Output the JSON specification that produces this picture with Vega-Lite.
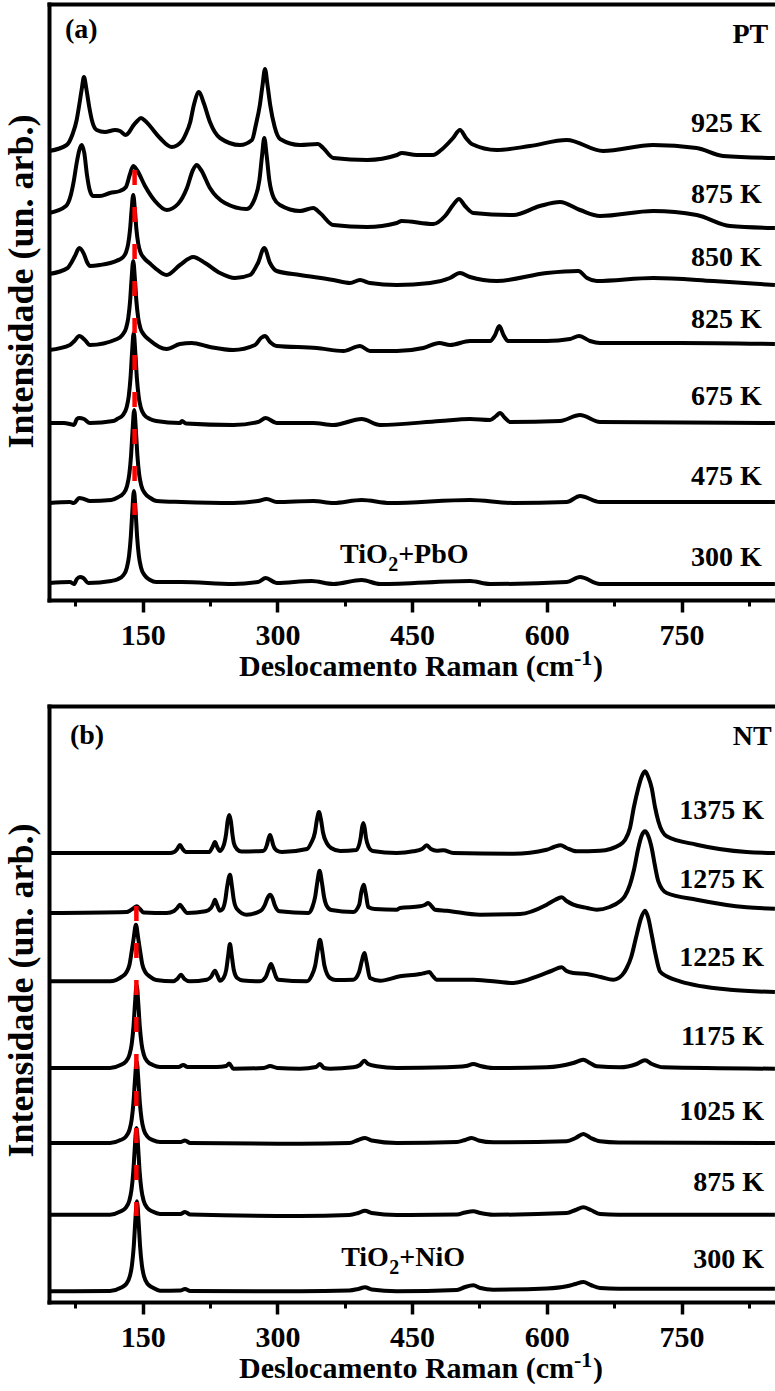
{
"$schema":"https://vega.github.io/schema/vega-lite/v6.json",
"background":"white",
"padding":{"left":2,"top":4,"right":0,"bottom":0},
"bounds":"flush",
"spacing":106,
"config":{"view":{"stroke":null}},
"datasets":{
"pa":[
{"s":"925","x":46,"y":449},{"s":"925","x":65.4,"y":455},{"s":"925","x":72,"y":466},{"s":"925","x":76.5,"y":480},{"s":"925","x":79,"y":493},{"s":"925","x":82,"y":510},{"s":"925","x":84.6,"y":523},{"s":"925","x":87.5,"y":510},{"s":"925","x":90.5,"y":493},{"s":"925","x":94,"y":478},{"s":"925","x":98.8,"y":470},{"s":"925","x":108,"y":468},{"s":"925","x":119.3,"y":470},{"s":"925","x":124.7,"y":469},{"s":"925","x":131.4,"y":465},{"s":"925","x":135,"y":468},{"s":"925","x":139.2,"y":474},{"s":"925","x":144,"y":479},{"s":"925","x":148.1,"y":482},{"s":"925","x":153,"y":479},{"s":"925","x":158.1,"y":474},{"s":"925","x":169.3,"y":462},{"s":"925","x":182.4,"y":453},{"s":"925","x":193.8,"y":459},{"s":"925","x":198,"y":466},{"s":"925","x":203,"y":478},{"s":"925","x":207,"y":495},{"s":"925","x":212.7,"y":508},{"s":"925","x":218,"y":497},{"s":"925","x":224.9,"y":478},{"s":"925","x":236.1,"y":462},{"s":"925","x":258.4,"y":455},{"s":"925","x":271.7,"y":460},{"s":"925","x":276,"y":475},{"s":"925","x":280.5,"y":495},{"s":"925","x":283.5,"y":515},{"s":"925","x":286.2,"y":531},{"s":"925","x":289,"y":515},{"s":"925","x":292,"y":495},{"s":"925","x":297,"y":473},{"s":"925","x":303,"y":461},{"s":"925","x":325.2,"y":455},{"s":"925","x":345.2,"y":456},{"s":"925","x":351,"y":452},{"s":"925","x":362.3,"y":442},{"s":"925","x":400.1,"y":440},{"s":"925","x":433.2,"y":445},{"s":"925","x":438.4,"y":447},{"s":"925","x":455,"y":445},{"s":"925","x":473.3,"y":445},{"s":"925","x":482.3,"y":450},{"s":"925","x":495.6,"y":462},{"s":"925","x":503.3,"y":470},{"s":"925","x":510,"y":462},{"s":"925","x":516.4,"y":456},{"s":"925","x":544.2,"y":450},{"s":"925","x":581.3,"y":454},{"s":"925","x":622.2,"y":460},{"s":"925","x":662.6,"y":449},{"s":"925","x":718.3,"y":455},{"s":"925","x":766.9,"y":452},{"s":"925","x":796.2,"y":444},{"s":"925","x":854,"y":442},
{"s":"875","x":46,"y":387},{"s":"875","x":64.6,"y":394},{"s":"875","x":70,"y":405},{"s":"875","x":73.5,"y":420},{"s":"875","x":76.5,"y":437},{"s":"875","x":79.5,"y":450},{"s":"875","x":82.1,"y":455},{"s":"875","x":85,"y":447},{"s":"875","x":88,"y":425},{"s":"875","x":91,"y":410},{"s":"875","x":94.7,"y":404},{"s":"875","x":102.4,"y":404},{"s":"875","x":113.6,"y":407},{"s":"875","x":124.7,"y":409},{"s":"875","x":131.4,"y":413},{"s":"875","x":135.9,"y":426},{"s":"875","x":139.5,"y":434},{"s":"875","x":143.6,"y":430},{"s":"875","x":152.6,"y":414},{"s":"875","x":163.7,"y":399},{"s":"875","x":176.7,"y":390},{"s":"875","x":189.3,"y":396},{"s":"875","x":199.3,"y":412},{"s":"875","x":206,"y":430},{"s":"875","x":210.1,"y":435},{"s":"875","x":215,"y":430},{"s":"875","x":224.9,"y":412},{"s":"875","x":241.6,"y":397},{"s":"875","x":265.8,"y":391},{"s":"875","x":275.1,"y":402},{"s":"875","x":280,"y":420},{"s":"875","x":283,"y":445},{"s":"875","x":285.4,"y":462},{"s":"875","x":288,"y":445},{"s":"875","x":291,"y":420},{"s":"875","x":296,"y":402},{"s":"875","x":302.9,"y":395},{"s":"875","x":325.2,"y":389},{"s":"875","x":340,"y":392},{"s":"875","x":347.5,"y":387},{"s":"875","x":362.3,"y":375},{"s":"875","x":399.9,"y":373},{"s":"875","x":432.9,"y":377},{"s":"875","x":438.4,"y":379},{"s":"875","x":473.6,"y":376},{"s":"875","x":486.7,"y":384},{"s":"875","x":495.6,"y":395},{"s":"875","x":502.2,"y":401},{"s":"875","x":508.9,"y":394},{"s":"875","x":518.2,"y":387},{"s":"875","x":562.7,"y":385},{"s":"875","x":592.4,"y":394},{"s":"875","x":614.7,"y":398},{"s":"875","x":637,"y":390},{"s":"875","x":659.2,"y":384},{"s":"875","x":718.6,"y":389},{"s":"875","x":766.9,"y":385},{"s":"875","x":804,"y":374},{"s":"875","x":854,"y":372},
{"s":"850","x":46,"y":326},{"s":"850","x":66.5,"y":332},{"s":"850","x":71,"y":338},{"s":"850","x":74.6,"y":344},{"s":"850","x":79.4,"y":352},{"s":"850","x":84.6,"y":346},{"s":"850","x":88,"y":338},{"s":"850","x":91.3,"y":334},{"s":"850","x":102.4,"y":335},{"s":"850","x":121.5,"y":339.4},{"s":"850","x":127.5,"y":342.3},{"s":"850","x":131.5,"y":347.9},{"s":"850","x":134,"y":356.7},{"s":"850","x":136,"y":371},{"s":"850","x":137.5,"y":388},{"s":"850","x":139.5,"y":405},{"s":"850","x":141.5,"y":388},{"s":"850","x":143,"y":371},{"s":"850","x":145,"y":356.7},{"s":"850","x":147.5,"y":347.9},{"s":"850","x":151.5,"y":342},{"s":"850","x":157.5,"y":337},{"s":"850","x":163.7,"y":332},{"s":"850","x":176.7,"y":325},{"s":"850","x":191.5,"y":335},{"s":"850","x":206.3,"y":343},{"s":"850","x":219.5,"y":337},{"s":"850","x":236.1,"y":327},{"s":"850","x":252.8,"y":322},{"s":"850","x":269.5,"y":325},{"s":"850","x":278.4,"y":337},{"s":"850","x":285.4,"y":352},{"s":"850","x":291.8,"y":337},{"s":"850","x":299.2,"y":329},{"s":"850","x":325.2,"y":325},{"s":"850","x":362.3,"y":320},{"s":"850","x":380.9,"y":317},{"s":"850","x":392,"y":320},{"s":"850","x":403.1,"y":317},{"s":"850","x":432.9,"y":315},{"s":"850","x":469.9,"y":317},{"s":"850","x":492.2,"y":322},{"s":"850","x":503.3,"y":327},{"s":"850","x":514.5,"y":323},{"s":"850","x":544.2,"y":319},{"s":"850","x":599.9,"y":327},{"s":"850","x":635.1,"y":329},{"s":"850","x":644.8,"y":322},{"s":"850","x":655.6,"y":319},{"s":"850","x":718.6,"y":322},{"s":"850","x":785.4,"y":319},{"s":"850","x":854,"y":315},
{"s":"825","x":46,"y":250},{"s":"825","x":69,"y":255},{"s":"825","x":74,"y":259},{"s":"825","x":79.4,"y":264},{"s":"825","x":85.7,"y":260},{"s":"825","x":91.3,"y":255},{"s":"825","x":121.5,"y":261},{"s":"825","x":127.5,"y":265.2},{"s":"825","x":131.5,"y":271.8},{"s":"825","x":134,"y":282.2},{"s":"825","x":136,"y":299},{"s":"825","x":137.5,"y":319},{"s":"825","x":139.5,"y":339},{"s":"825","x":141.5,"y":319},{"s":"825","x":143,"y":299},{"s":"825","x":145,"y":282.2},{"s":"825","x":147.5,"y":271.8},{"s":"825","x":151.5,"y":265.2},{"s":"825","x":157.5,"y":260},{"s":"825","x":176.7,"y":251},{"s":"825","x":191.5,"y":256},{"s":"825","x":204.6,"y":257},{"s":"825","x":224.9,"y":253},{"s":"825","x":250.9,"y":250},{"s":"825","x":275.1,"y":255},{"s":"825","x":281.7,"y":262},{"s":"825","x":286.2,"y":264},{"s":"825","x":291.8,"y":258},{"s":"825","x":299.2,"y":254},{"s":"825","x":343.8,"y":252},{"s":"825","x":373.4,"y":249},{"s":"825","x":392,"y":254},{"s":"825","x":403.1,"y":249},{"s":"825","x":432.9,"y":249},{"s":"825","x":462.5,"y":252},{"s":"825","x":480.3,"y":257},{"s":"825","x":492.2,"y":255},{"s":"825","x":514.5,"y":259},{"s":"825","x":536.8,"y":259},{"s":"825","x":542.4,"y":265},{"s":"825","x":547.1,"y":274},{"s":"825","x":551.8,"y":265},{"s":"825","x":557.1,"y":259},{"s":"825","x":599.9,"y":259},{"s":"825","x":625.9,"y":261},{"s":"825","x":635.9,"y":264},{"s":"825","x":648.1,"y":259},{"s":"825","x":659.2,"y":257},{"s":"825","x":748.3,"y":257},{"s":"825","x":854,"y":256},
{"s":"675","x":46,"y":177},{"s":"675","x":62.4,"y":177},{"s":"675","x":69,"y":176},{"s":"675","x":73.5,"y":175},{"s":"675","x":76.8,"y":181},{"s":"675","x":79.4,"y":182},{"s":"675","x":84.6,"y":181},{"s":"675","x":91.3,"y":177},{"s":"675","x":117.3,"y":179},{"s":"675","x":122,"y":181.2},{"s":"675","x":128,"y":184.9},{"s":"675","x":132,"y":192.2},{"s":"675","x":134.5,"y":203.8},{"s":"675","x":136.5,"y":222.5},{"s":"675","x":138,"y":244.8},{"s":"675","x":140,"y":267},{"s":"675","x":142,"y":244.8},{"s":"675","x":143.5,"y":222.5},{"s":"675","x":145.5,"y":203.8},{"s":"675","x":148,"y":192.2},{"s":"675","x":152,"y":184.9},{"s":"675","x":158,"y":181},{"s":"675","x":165,"y":179},{"s":"675","x":191.5,"y":177},{"s":"675","x":193.8,"y":179},{"s":"675","x":198.2,"y":176.5},{"s":"675","x":250.9,"y":175},{"s":"675","x":278.4,"y":178},{"s":"675","x":287,"y":182},{"s":"675","x":299.2,"y":177},{"s":"675","x":339.7,"y":177},{"s":"675","x":362.3,"y":175},{"s":"675","x":393.9,"y":181},{"s":"675","x":414.3,"y":175},{"s":"675","x":481.1,"y":179},{"s":"675","x":514.5,"y":181},{"s":"675","x":536.8,"y":180},{"s":"675","x":543.5,"y":184},{"s":"675","x":547.9,"y":187},{"s":"675","x":553.5,"y":182},{"s":"675","x":559,"y":178},{"s":"675","x":614.7,"y":179},{"s":"675","x":637,"y":185},{"s":"675","x":659.2,"y":178},{"s":"675","x":854,"y":177},
{"s":"475","x":46,"y":97},{"s":"475","x":69,"y":98},{"s":"475","x":73.5,"y":97},{"s":"475","x":79.4,"y":102},{"s":"475","x":84.6,"y":101},{"s":"475","x":91.3,"y":99},{"s":"475","x":115,"y":100},{"s":"475","x":122.6,"y":102.8},{"s":"475","x":128.6,"y":106.6},{"s":"475","x":132.6,"y":114},{"s":"475","x":135.1,"y":125.7},{"s":"475","x":137.1,"y":144.8},{"s":"475","x":138.6,"y":167.4},{"s":"475","x":140.6,"y":190},{"s":"475","x":142.6,"y":167.4},{"s":"475","x":144.1,"y":144.8},{"s":"475","x":146.1,"y":125.7},{"s":"475","x":148.6,"y":114},{"s":"475","x":152.6,"y":106.6},{"s":"475","x":158.6,"y":102},{"s":"475","x":165.6,"y":99},{"s":"475","x":193.4,"y":98},{"s":"475","x":250.9,"y":97},{"s":"475","x":278.4,"y":99},{"s":"475","x":288.1,"y":101},{"s":"475","x":299.2,"y":98},{"s":"475","x":340,"y":99},{"s":"475","x":362.3,"y":97},{"s":"475","x":393.9,"y":100},{"s":"475","x":425.4,"y":97},{"s":"475","x":514.5,"y":100},{"s":"475","x":562.7,"y":97},{"s":"475","x":622.2,"y":98},{"s":"475","x":637,"y":104},{"s":"475","x":659.2,"y":98},{"s":"475","x":854,"y":98},
{"s":"300","x":46,"y":17},{"s":"300","x":69,"y":18},{"s":"300","x":73.5,"y":16},{"s":"300","x":76.8,"y":21},{"s":"300","x":80.2,"y":23},{"s":"300","x":83.9,"y":22},{"s":"300","x":89.4,"y":17},{"s":"300","x":115,"y":19},{"s":"300","x":122.3,"y":20.8},{"s":"300","x":128.3,"y":24.6},{"s":"300","x":132.3,"y":32.1},{"s":"300","x":134.8,"y":44},{"s":"300","x":136.8,"y":63.3},{"s":"300","x":138.3,"y":86.1},{"s":"300","x":140.3,"y":109},{"s":"300","x":142.3,"y":86.1},{"s":"300","x":143.8,"y":63.3},{"s":"300","x":145.8,"y":44},{"s":"300","x":148.3,"y":32.1},{"s":"300","x":152.3,"y":24.6},{"s":"300","x":158.3,"y":20},{"s":"300","x":165,"y":18},{"s":"300","x":193.4,"y":18},{"s":"300","x":250.9,"y":16},{"s":"300","x":278.4,"y":18},{"s":"300","x":287,"y":22},{"s":"300","x":299.2,"y":17},{"s":"300","x":338.2,"y":19},{"s":"300","x":362.3,"y":16},{"s":"300","x":393.9,"y":20},{"s":"300","x":414.3,"y":16},{"s":"300","x":514.5,"y":19},{"s":"300","x":536.8,"y":16},{"s":"300","x":622.2,"y":18},{"s":"300","x":637,"y":23},{"s":"300","x":659.2,"y":16},{"s":"300","x":854,"y":16}
],
"pb":[
{"s":"1375","x":46,"y":449},{"s":"1375","x":180.4,"y":449},{"s":"1375","x":185,"y":450},{"s":"1375","x":188.5,"y":453},{"s":"1375","x":191.5,"y":457},{"s":"1375","x":194.5,"y":453},{"s":"1375","x":198,"y":450},{"s":"1375","x":224,"y":450},{"s":"1375","x":227.5,"y":454.5},{"s":"1375","x":230.5,"y":460},{"s":"1375","x":233,"y":455},{"s":"1375","x":236,"y":451},{"s":"1375","x":239,"y":454},{"s":"1375","x":241,"y":459},{"s":"1375","x":242.9,"y":468},{"s":"1375","x":244.6,"y":481},{"s":"1375","x":246.4,"y":487},{"s":"1375","x":248.2,"y":481},{"s":"1375","x":249.9,"y":468},{"s":"1375","x":251.5,"y":459},{"s":"1375","x":254.7,"y":453},{"s":"1375","x":260,"y":450.5},{"s":"1375","x":284,"y":451},{"s":"1375","x":288.3,"y":457},{"s":"1375","x":290,"y":463},{"s":"1375","x":291.8,"y":467},{"s":"1375","x":293.6,"y":463},{"s":"1375","x":295.3,"y":457},{"s":"1375","x":299.2,"y":451.5},{"s":"1375","x":305,"y":450},{"s":"1375","x":333,"y":453},{"s":"1375","x":337.3,"y":458.5},{"s":"1375","x":341.8,"y":469.5},{"s":"1375","x":344,"y":482},{"s":"1375","x":346.3,"y":490},{"s":"1375","x":348.6,"y":482},{"s":"1375","x":350.8,"y":469.5},{"s":"1375","x":355.3,"y":458.5},{"s":"1375","x":359.8,"y":454},{"s":"1375","x":370,"y":451},{"s":"1375","x":388,"y":452},{"s":"1375","x":392.7,"y":464},{"s":"1375","x":394.2,"y":474},{"s":"1375","x":395.7,"y":479},{"s":"1375","x":397.2,"y":474},{"s":"1375","x":398.7,"y":464},{"s":"1375","x":401.7,"y":455},{"s":"1375","x":406,"y":451},{"s":"1375","x":432.9,"y":449},{"s":"1375","x":451.3,"y":450.7},{"s":"1375","x":461,"y":453},{"s":"1375","x":466.3,"y":456.7},{"s":"1375","x":471,"y":453},{"s":"1375","x":477.4,"y":451.3},{"s":"1375","x":484.8,"y":451.7},{"s":"1375","x":495.9,"y":449},{"s":"1375","x":562.7,"y":448.3},{"s":"1375","x":599.9,"y":452.3},{"s":"1375","x":608,"y":455},{"s":"1375","x":615.5,"y":456.7},{"s":"1375","x":622,"y":454},{"s":"1375","x":633.3,"y":450.7},{"s":"1375","x":659.2,"y":451.3},{"s":"1375","x":681.5,"y":457.3},{"s":"1375","x":687,"y":462},{"s":"1375","x":692.6,"y":474},{"s":"1375","x":697,"y":495},{"s":"1375","x":701.9,"y":514},{"s":"1375","x":705.5,"y":525},{"s":"1375","x":709.4,"y":530.7},{"s":"1375","x":713,"y":525},{"s":"1375","x":716.8,"y":514},{"s":"1375","x":720.5,"y":495},{"s":"1375","x":724.2,"y":480.7},{"s":"1375","x":733.5,"y":465.7},{"s":"1375","x":766.9,"y":457.3},{"s":"1375","x":822.6,"y":450},{"s":"1375","x":854,"y":449},
{"s":"1275","x":46,"y":389},{"s":"1275","x":132.2,"y":390},{"s":"1275","x":136,"y":391.5},{"s":"1275","x":139.5,"y":393.5},{"s":"1275","x":143.3,"y":395.7},{"s":"1275","x":147,"y":393},{"s":"1275","x":151,"y":389.5},{"s":"1275","x":176.7,"y":389},{"s":"1275","x":185,"y":391},{"s":"1275","x":188.5,"y":394},{"s":"1275","x":191.5,"y":397.3},{"s":"1275","x":194.5,"y":394},{"s":"1275","x":199.7,"y":389},{"s":"1275","x":220,"y":390.7},{"s":"1275","x":226,"y":394},{"s":"1275","x":228.5,"y":398},{"s":"1275","x":230.5,"y":402.3},{"s":"1275","x":232.5,"y":398},{"s":"1275","x":236.1,"y":391.3},{"s":"1275","x":239,"y":393},{"s":"1275","x":242,"y":402},{"s":"1275","x":244,"y":415},{"s":"1275","x":247.2,"y":427.3},{"s":"1275","x":249.5,"y":415},{"s":"1275","x":251.5,"y":402},{"s":"1275","x":255,"y":393},{"s":"1275","x":265.8,"y":387.3},{"s":"1275","x":281,"y":391},{"s":"1275","x":286,"y":397},{"s":"1275","x":289,"y":404},{"s":"1275","x":291.8,"y":407.3},{"s":"1275","x":294.5,"y":404},{"s":"1275","x":297,"y":397},{"s":"1275","x":302.4,"y":390.7},{"s":"1275","x":334.5,"y":389},{"s":"1275","x":339,"y":395},{"s":"1275","x":342,"y":405},{"s":"1275","x":344.5,"y":420},{"s":"1275","x":347,"y":431.3},{"s":"1275","x":349.5,"y":420},{"s":"1275","x":352,"y":405},{"s":"1275","x":355,"y":396},{"s":"1275","x":360,"y":392},{"s":"1275","x":384.5,"y":390},{"s":"1275","x":391,"y":397},{"s":"1275","x":393.5,"y":410},{"s":"1275","x":396,"y":417.3},{"s":"1275","x":398.5,"y":408},{"s":"1275","x":401.2,"y":395},{"s":"1275","x":408,"y":393},{"s":"1275","x":432.9,"y":392.3},{"s":"1275","x":436.5,"y":394},{"s":"1275","x":458.8,"y":395.7},{"s":"1275","x":464,"y":397},{"s":"1275","x":468,"y":399},{"s":"1275","x":471.5,"y":396},{"s":"1275","x":475.5,"y":392.3},{"s":"1275","x":488.5,"y":391.3},{"s":"1275","x":525.6,"y":387.3},{"s":"1275","x":570.1,"y":388},{"s":"1275","x":599.9,"y":397.3},{"s":"1275","x":609,"y":402},{"s":"1275","x":616.6,"y":404.7},{"s":"1275","x":622,"y":401},{"s":"1275","x":629.5,"y":397.3},{"s":"1275","x":645,"y":394},{"s":"1275","x":655.6,"y":392.3},{"s":"1275","x":670,"y":395},{"s":"1275","x":681.5,"y":400.7},{"s":"1275","x":687,"y":406},{"s":"1275","x":692.6,"y":417.3},{"s":"1275","x":697,"y":432},{"s":"1275","x":701.9,"y":454},{"s":"1275","x":705.5,"y":466},{"s":"1275","x":709.4,"y":470.7},{"s":"1275","x":713,"y":466},{"s":"1275","x":716.8,"y":454},{"s":"1275","x":720.5,"y":436},{"s":"1275","x":724.2,"y":420.7},{"s":"1275","x":733.5,"y":409},{"s":"1275","x":766.9,"y":402.3},{"s":"1275","x":822.6,"y":394.7},{"s":"1275","x":854,"y":393.3},
{"s":"1225","x":46,"y":320.7},{"s":"1225","x":113.6,"y":320.7},{"s":"1225","x":126.9,"y":325.4},{"s":"1225","x":132.1,"y":330},{"s":"1225","x":135.3,"y":337.2},{"s":"1225","x":138,"y":352},{"s":"1225","x":139.9,"y":363.2},{"s":"1225","x":142.5,"y":377.3},{"s":"1225","x":145.1,"y":363.2},{"s":"1225","x":147,"y":352},{"s":"1225","x":149.7,"y":337.2},{"s":"1225","x":152.9,"y":330},{"s":"1225","x":158.1,"y":325.4},{"s":"1225","x":165,"y":322},{"s":"1225","x":184.1,"y":320.7},{"s":"1225","x":188.5,"y":323},{"s":"1225","x":192.7,"y":327.3},{"s":"1225","x":196.5,"y":323},{"s":"1225","x":202.7,"y":320.7},{"s":"1225","x":221.3,"y":322.3},{"s":"1225","x":226,"y":325},{"s":"1225","x":230.5,"y":331.3},{"s":"1225","x":233.5,"y":326},{"s":"1225","x":236.1,"y":321.3},{"s":"1225","x":240,"y":324},{"s":"1225","x":243,"y":332},{"s":"1225","x":245,"y":345},{"s":"1225","x":247.2,"y":358},{"s":"1225","x":249.4,"y":345},{"s":"1225","x":251.5,"y":332},{"s":"1225","x":255.3,"y":324},{"s":"1225","x":262,"y":321.5},{"s":"1225","x":280.6,"y":320.7},{"s":"1225","x":287,"y":325},{"s":"1225","x":290,"y":332},{"s":"1225","x":292.9,"y":338},{"s":"1225","x":295.8,"y":332},{"s":"1225","x":298.5,"y":325},{"s":"1225","x":301,"y":322.3},{"s":"1225","x":332.6,"y":320.7},{"s":"1225","x":338,"y":326},{"s":"1225","x":342,"y":336},{"s":"1225","x":345,"y":352},{"s":"1225","x":347.4,"y":362.3},{"s":"1225","x":349.8,"y":352},{"s":"1225","x":352.5,"y":336},{"s":"1225","x":358.6,"y":324},{"s":"1225","x":365,"y":322},{"s":"1225","x":384.5,"y":322.3},{"s":"1225","x":391,"y":330},{"s":"1225","x":394,"y":341},{"s":"1225","x":396.8,"y":349},{"s":"1225","x":399.5,"y":339},{"s":"1225","x":403.1,"y":324},{"s":"1225","x":414.3,"y":321.3},{"s":"1225","x":436.5,"y":325.7},{"s":"1225","x":458.8,"y":328},{"s":"1225","x":464,"y":329},{"s":"1225","x":469.2,"y":330},{"s":"1225","x":473,"y":326},{"s":"1225","x":477.4,"y":322.3},{"s":"1225","x":518.2,"y":322.3},{"s":"1225","x":562.7,"y":319},{"s":"1225","x":592.4,"y":326.7},{"s":"1225","x":605,"y":331},{"s":"1225","x":616.6,"y":334.7},{"s":"1225","x":622,"y":331},{"s":"1225","x":629.5,"y":329},{"s":"1225","x":644.4,"y":328},{"s":"1225","x":660,"y":325},{"s":"1225","x":674.1,"y":322.3},{"s":"1225","x":684,"y":327},{"s":"1225","x":689,"y":334},{"s":"1225","x":694,"y":345},{"s":"1225","x":700.1,"y":367.3},{"s":"1225","x":705,"y":384},{"s":"1225","x":709.4,"y":391.3},{"s":"1225","x":713,"y":384},{"s":"1225","x":716.8,"y":367.3},{"s":"1225","x":721,"y":348},{"s":"1225","x":726,"y":330.7},{"s":"1225","x":735,"y":325},{"s":"1225","x":748.3,"y":320.7},{"s":"1225","x":804,"y":312.3},{"s":"1225","x":854,"y":310},
{"s":"1175","x":46,"y":234},{"s":"1175","x":113.6,"y":234},{"s":"1175","x":125.3,"y":237},{"s":"1175","x":131.3,"y":240.5},{"s":"1175","x":135.3,"y":247.3},{"s":"1175","x":137.8,"y":258.1},{"s":"1175","x":139.8,"y":275.5},{"s":"1175","x":141.3,"y":296.3},{"s":"1175","x":143.3,"y":317},{"s":"1175","x":145.3,"y":296.3},{"s":"1175","x":146.8,"y":275.5},{"s":"1175","x":148.8,"y":258.1},{"s":"1175","x":151.3,"y":247.3},{"s":"1175","x":155.3,"y":240.5},{"s":"1175","x":161.3,"y":237},{"s":"1175","x":169.3,"y":235},{"s":"1175","x":190,"y":235},{"s":"1175","x":195.2,"y":237},{"s":"1175","x":200,"y":235},{"s":"1175","x":232.4,"y":235},{"s":"1175","x":243,"y":236},{"s":"1175","x":246.4,"y":238.5},{"s":"1175","x":250.9,"y":233.3},{"s":"1175","x":285,"y":234},{"s":"1175","x":291.8,"y":236},{"s":"1175","x":300,"y":234},{"s":"1175","x":325.2,"y":233.3},{"s":"1175","x":343,"y":235},{"s":"1175","x":347.4,"y":238},{"s":"1175","x":352,"y":234},{"s":"1175","x":358.6,"y":233.3},{"s":"1175","x":384.5,"y":234.7},{"s":"1175","x":392,"y":237},{"s":"1175","x":396.8,"y":241.3},{"s":"1175","x":401,"y":238},{"s":"1175","x":410.6,"y":235.7},{"s":"1175","x":432.9,"y":234},{"s":"1175","x":488.5,"y":234.7},{"s":"1175","x":510,"y":236},{"s":"1175","x":518.2,"y":238},{"s":"1175","x":526,"y":236},{"s":"1175","x":540.4,"y":234},{"s":"1175","x":599.9,"y":234.7},{"s":"1175","x":629.5,"y":239},{"s":"1175","x":640.7,"y":242.3},{"s":"1175","x":648,"y":239},{"s":"1175","x":655.6,"y":235.7},{"s":"1175","x":681.5,"y":234.7},{"s":"1175","x":700,"y":238},{"s":"1175","x":709.4,"y":241.7},{"s":"1175","x":717,"y":238},{"s":"1175","x":729.7,"y":234.7},{"s":"1175","x":854,"y":233.3},
{"s":"1025","x":46,"y":159},{"s":"1025","x":113.6,"y":159},{"s":"1025","x":125.3,"y":161.9},{"s":"1025","x":131.3,"y":165.4},{"s":"1025","x":135.3,"y":172.1},{"s":"1025","x":137.8,"y":182.7},{"s":"1025","x":139.8,"y":199.9},{"s":"1025","x":141.3,"y":220.3},{"s":"1025","x":143.3,"y":240.7},{"s":"1025","x":145.3,"y":220.3},{"s":"1025","x":146.8,"y":199.9},{"s":"1025","x":148.8,"y":182.7},{"s":"1025","x":151.3,"y":172.1},{"s":"1025","x":155.3,"y":165.4},{"s":"1025","x":161.3,"y":161.9},{"s":"1025","x":169.3,"y":160},{"s":"1025","x":192,"y":160},{"s":"1025","x":197.1,"y":161.5},{"s":"1025","x":203,"y":159},{"s":"1025","x":325.2,"y":158.3},{"s":"1025","x":380,"y":159},{"s":"1025","x":390,"y":162},{"s":"1025","x":397.6,"y":164},{"s":"1025","x":405,"y":161.5},{"s":"1025","x":432.9,"y":159},{"s":"1025","x":500,"y":160},{"s":"1025","x":509,"y":162},{"s":"1025","x":516.4,"y":164},{"s":"1025","x":524,"y":161.5},{"s":"1025","x":540.4,"y":159.7},{"s":"1025","x":622.2,"y":160.7},{"s":"1025","x":632,"y":164},{"s":"1025","x":640.7,"y":168},{"s":"1025","x":649,"y":164},{"s":"1025","x":659.2,"y":160.7},{"s":"1025","x":680,"y":159.5},{"s":"1025","x":854,"y":159},
{"s":"875","x":46,"y":87.3},{"s":"875","x":113.6,"y":87.3},{"s":"875","x":125.1,"y":90.4},{"s":"875","x":131.1,"y":94.1},{"s":"875","x":135.1,"y":101.2},{"s":"875","x":137.6,"y":112.4},{"s":"875","x":139.6,"y":130.7},{"s":"875","x":141.1,"y":152.3},{"s":"875","x":143.1,"y":174},{"s":"875","x":145.1,"y":152.3},{"s":"875","x":146.6,"y":130.7},{"s":"875","x":148.6,"y":112.4},{"s":"875","x":151.1,"y":101.2},{"s":"875","x":155.1,"y":94.1},{"s":"875","x":161.1,"y":90.4},{"s":"875","x":169.3,"y":88},{"s":"875","x":192,"y":88},{"s":"875","x":197.1,"y":90},{"s":"875","x":203,"y":87.5},{"s":"875","x":325.2,"y":86},{"s":"875","x":380,"y":87},{"s":"875","x":390,"y":89},{"s":"875","x":397.6,"y":91.3},{"s":"875","x":405,"y":89},{"s":"875","x":432.9,"y":87},{"s":"875","x":500,"y":87.5},{"s":"875","x":509,"y":89.5},{"s":"875","x":518.2,"y":90.7},{"s":"875","x":526,"y":89},{"s":"875","x":540.4,"y":87.3},{"s":"875","x":622.2,"y":89},{"s":"875","x":632,"y":92},{"s":"875","x":640.7,"y":94.7},{"s":"875","x":649,"y":92},{"s":"875","x":659.2,"y":88},{"s":"875","x":680,"y":87.3},{"s":"875","x":854,"y":87.3},
{"s":"300","x":46,"y":10.7},{"s":"300","x":113.6,"y":11},{"s":"300","x":125.6,"y":14.2},{"s":"300","x":131.6,"y":18},{"s":"300","x":135.6,"y":25.4},{"s":"300","x":138.1,"y":37},{"s":"300","x":140.1,"y":55.9},{"s":"300","x":141.6,"y":78.3},{"s":"300","x":143.6,"y":100.7},{"s":"300","x":145.6,"y":78.3},{"s":"300","x":147.1,"y":55.9},{"s":"300","x":149.1,"y":37},{"s":"300","x":151.6,"y":25.4},{"s":"300","x":155.6,"y":18},{"s":"300","x":161.6,"y":14.2},{"s":"300","x":169.3,"y":11.3},{"s":"300","x":192,"y":11.5},{"s":"300","x":197.1,"y":13},{"s":"300","x":203,"y":11},{"s":"300","x":325.2,"y":10.7},{"s":"300","x":380,"y":11.5},{"s":"300","x":390,"y":13},{"s":"300","x":397.6,"y":14.7},{"s":"300","x":405,"y":12.5},{"s":"300","x":432.9,"y":10.7},{"s":"300","x":500,"y":12},{"s":"300","x":509,"y":15},{"s":"300","x":518.2,"y":16.7},{"s":"300","x":526,"y":14},{"s":"300","x":540.4,"y":12.3},{"s":"300","x":600,"y":13.5},{"s":"300","x":622.2,"y":15.7},{"s":"300","x":632,"y":18},{"s":"300","x":640.7,"y":20},{"s":"300","x":649,"y":17},{"s":"300","x":659.2,"y":14},{"s":"300","x":680,"y":13.3},{"s":"300","x":854,"y":13.3}
]
},
"vconcat":[
{
"width":726,"height":596,
"resolve":{"axis":{"x":"independent","y":"independent"}},
"layer":[
{"data":{"name":"pa"},
"mark":{"type":"line","color":"black","strokeWidth":4,"interpolate":"monotone","strokeJoin":"round"},
"encoding":{
"x":{"field":"x","type":"quantitative","scale":{"domain":[45.7,854.1],"nice":false,"zero":false},
"axis":{"orient":"bottom","values":[75,150,225,300,375,450,525,600,675,750,825],"labelExpr":"datum.value % 150 === 0 ? datum.label : ''","domainColor":"black","domainWidth":4,"domainCap":"square","tickColor":"black","tickSize":{"condition":{"test":"datum.value % 150 === 0","value":12},"value":6},"tickWidth":{"condition":{"test":"datum.value % 150 === 0","value":3.5},"value":3},"labelFont":"Liberation Serif","labelFontWeight":"bold","labelFontSize":30,"labelColor":"black","labelPadding":8,"labelOverlap":false,"labelFlush":false,"grid":false,"title":null}},
"y":{"field":"y","type":"quantitative","scale":{"domain":[0,596],"nice":false,"zero":false},
"axis":{"orient":"left","domainColor":"black","domainWidth":4,"domainCap":"square","ticks":false,"labels":false,"grid":false,"title":"Intensidade (un. arb.)","titleFont":"Liberation Serif","titleFontWeight":"bold","titleFontSize":36,"titleColor":"black","titleX":-9,"titleY":277,"titleBaseline":"bottom","titleAlign":"center","titleAngle":270}},
"detail":{"field":"s","type":"nominal"}}},
{"data":{"values":[{"x":141,"y":430,"o":1},{"x":141,"y":85,"o":2}]},
"mark":{"type":"line","color":"#ff0000","strokeWidth":4.5,"strokeDash":[15,22]},
"encoding":{
"x":{"field":"x","type":"quantitative","scale":{"domain":[45.7,854.1],"nice":false,"zero":false},"axis":{"orient":"top","domainColor":"black","domainWidth":4,"domainCap":"square","ticks":false,"labels":false,"grid":false,"title":null}},
"y":{"field":"y","type":"quantitative","scale":{"domain":[0,596],"nice":false,"zero":false},"axis":null},
"order":{"field":"o","type":"quantitative"}}},
{"data":{"values":[{"t":"PT","x":846.6,"y":557},{"t":"925 K","x":839.5,"y":468},{"t":"875 K","x":839.5,"y":397},{"t":"850 K","x":839.5,"y":334},{"t":"825 K","x":839.5,"y":272},{"t":"675 K","x":839.5,"y":195},{"t":"475 K","x":839.5,"y":115},{"t":"300 K","x":839.5,"y":34}]},
"mark":{"type":"text","align":"right","baseline":"alphabetic","font":"Liberation Serif","fontWeight":"bold","fontSize":28,"color":"black"},
"encoding":{"x":{"field":"x","type":"quantitative","axis":null},"y":{"field":"y","type":"quantitative","axis":null},"text":{"field":"t"}}},
{"data":{"values":[{"t":"(a)","x":63.5,"y":562},{"t":"TiO","x":369.8,"y":37},{"t":"+PbO","x":434.5,"y":37}]},
"mark":{"type":"text","align":"left","baseline":"alphabetic","font":"Liberation Serif","fontWeight":"bold","fontSize":28,"color":"black"},
"encoding":{"x":{"field":"x","type":"quantitative","axis":null},"y":{"field":"y","type":"quantitative","axis":null},"text":{"field":"t"}}},
{"data":{"values":[{"t":"2","x":423.4,"y":29}]},
"mark":{"type":"text","align":"left","baseline":"alphabetic","font":"Liberation Serif","fontWeight":"bold","fontSize":20,"color":"black"},
"encoding":{"x":{"field":"x","type":"quantitative","axis":null},"y":{"field":"y","type":"quantitative","axis":null},"text":{"field":"t"}}},
{"data":{"values":[{"t":"Deslocamento Raman (cm","x":630.3,"y":-76}]},
"mark":{"type":"text","align":"right","baseline":"alphabetic","font":"Liberation Serif","fontWeight":"bold","fontSize":30,"color":"black"},
"encoding":{"x":{"field":"x","type":"quantitative","axis":null},"y":{"field":"y","type":"quantitative","axis":null},"text":{"field":"t"}}},
{"data":{"values":[{"t":")","x":651.5,"y":-76}]},
"mark":{"type":"text","align":"left","baseline":"alphabetic","font":"Liberation Serif","fontWeight":"bold","fontSize":30,"color":"black"},
"encoding":{"x":{"field":"x","type":"quantitative","axis":null},"y":{"field":"y","type":"quantitative","axis":null},"text":{"field":"t"}}},
{"data":{"values":[{"t":"-1","x":630.3,"y":-65}]},
"mark":{"type":"text","align":"left","baseline":"alphabetic","font":"Liberation Serif","fontWeight":"bold","fontSize":22,"color":"black"},
"encoding":{"x":{"field":"x","type":"quantitative","axis":null},"y":{"field":"y","type":"quantitative","axis":null},"text":{"field":"t"}}}
]
},
{
"width":726,"height":596,
"resolve":{"axis":{"x":"independent","y":"independent"}},
"layer":[
{"data":{"name":"pb"},
"mark":{"type":"line","color":"black","strokeWidth":4,"interpolate":"monotone","strokeJoin":"round"},
"encoding":{
"x":{"field":"x","type":"quantitative","scale":{"domain":[45.7,854.1],"nice":false,"zero":false},
"axis":{"orient":"bottom","values":[75,150,225,300,375,450,525,600,675,750,825],"labelExpr":"datum.value % 150 === 0 ? datum.label : ''","domainColor":"black","domainWidth":4,"domainCap":"square","tickColor":"black","tickSize":{"condition":{"test":"datum.value % 150 === 0","value":12},"value":6},"tickWidth":{"condition":{"test":"datum.value % 150 === 0","value":3.5},"value":3},"labelFont":"Liberation Serif","labelFontWeight":"bold","labelFontSize":30,"labelColor":"black","labelPadding":8,"labelOverlap":false,"labelFlush":false,"grid":false,"title":null}},
"y":{"field":"y","type":"quantitative","scale":{"domain":[0,596],"nice":false,"zero":false},
"axis":{"orient":"left","domainColor":"black","domainWidth":4,"domainCap":"square","ticks":false,"labels":false,"grid":false,"title":"Intensidade (un. arb.)","titleFont":"Liberation Serif","titleFontWeight":"bold","titleFontSize":36,"titleColor":"black","titleX":-9,"titleY":284,"titleBaseline":"bottom","titleAlign":"center","titleAngle":270}},
"detail":{"field":"s","type":"nominal"}}},
{"data":{"values":[{"x":143,"y":396,"o":1},{"x":143,"y":86,"o":2}]},
"mark":{"type":"line","color":"#ff0000","strokeWidth":4.5,"strokeDash":[15,22]},
"encoding":{
"x":{"field":"x","type":"quantitative","scale":{"domain":[45.7,854.1],"nice":false,"zero":false},"axis":{"orient":"top","domainColor":"black","domainWidth":4,"domainCap":"square","ticks":false,"labels":false,"grid":false,"title":null}},
"y":{"field":"y","type":"quantitative","scale":{"domain":[0,596],"nice":false,"zero":false},"axis":null},
"order":{"field":"o","type":"quantitative"}}},
{"data":{"values":[{"t":"NT","x":850.5,"y":557},{"t":"1375 K","x":842,"y":483},{"t":"1275 K","x":842,"y":414},{"t":"1225 K","x":842,"y":336},{"t":"1175 K","x":842,"y":257},{"t":"1025 K","x":842,"y":182},{"t":"875 K","x":842,"y":111},{"t":"300 K","x":842,"y":34}]},
"mark":{"type":"text","align":"right","baseline":"alphabetic","font":"Liberation Serif","fontWeight":"bold","fontSize":28,"color":"black"},
"encoding":{"x":{"field":"x","type":"quantitative","axis":null},"y":{"field":"y","type":"quantitative","axis":null},"text":{"field":"t"}}},
{"data":{"values":[{"t":"(b)","x":69,"y":558},{"t":"TiO","x":371,"y":36},{"t":"+NiO","x":435.8,"y":36}]},
"mark":{"type":"text","align":"left","baseline":"alphabetic","font":"Liberation Serif","fontWeight":"bold","fontSize":28,"color":"black"},
"encoding":{"x":{"field":"x","type":"quantitative","axis":null},"y":{"field":"y","type":"quantitative","axis":null},"text":{"field":"t"}}},
{"data":{"values":[{"t":"2","x":424.6,"y":28}]},
"mark":{"type":"text","align":"left","baseline":"alphabetic","font":"Liberation Serif","fontWeight":"bold","fontSize":20,"color":"black"},
"encoding":{"x":{"field":"x","type":"quantitative","axis":null},"y":{"field":"y","type":"quantitative","axis":null},"text":{"field":"t"}}},
{"data":{"values":[{"t":"Deslocamento Raman (cm","x":630.3,"y":-76}]},
"mark":{"type":"text","align":"right","baseline":"alphabetic","font":"Liberation Serif","fontWeight":"bold","fontSize":30,"color":"black"},
"encoding":{"x":{"field":"x","type":"quantitative","axis":null},"y":{"field":"y","type":"quantitative","axis":null},"text":{"field":"t"}}},
{"data":{"values":[{"t":")","x":651.5,"y":-76}]},
"mark":{"type":"text","align":"left","baseline":"alphabetic","font":"Liberation Serif","fontWeight":"bold","fontSize":30,"color":"black"},
"encoding":{"x":{"field":"x","type":"quantitative","axis":null},"y":{"field":"y","type":"quantitative","axis":null},"text":{"field":"t"}}},
{"data":{"values":[{"t":"-1","x":630.3,"y":-65}]},
"mark":{"type":"text","align":"left","baseline":"alphabetic","font":"Liberation Serif","fontWeight":"bold","fontSize":22,"color":"black"},
"encoding":{"x":{"field":"x","type":"quantitative","axis":null},"y":{"field":"y","type":"quantitative","axis":null},"text":{"field":"t"}}}
]
}
]
}
